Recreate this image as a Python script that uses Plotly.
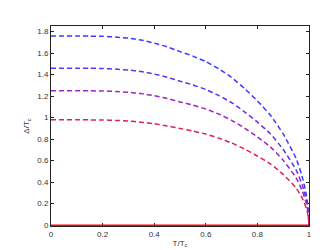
import plotly.graph_objects as go

T = [0, 0.05, 0.1, 0.15, 0.2, 0.25, 0.3, 0.35, 0.4, 0.45, 0.5, 0.55, 0.6, 0.65, 0.7,
     0.75, 0.8, 0.85, 0.9, 0.95, 0.975, 0.99, 0.997, 1.0]
gap_176 = [1.76, 1.76, 1.76, 1.758, 1.756, 1.749, 1.739, 1.721, 1.693, 1.658, 1.614, 1.572,
           1.521, 1.454, 1.373, 1.271, 1.155, 1.024, 0.848, 0.620, 0.44, 0.278, 0.153, 0]
gap_146 = [1.46, 1.46, 1.46, 1.459, 1.457, 1.451, 1.442, 1.428, 1.405, 1.375, 1.339, 1.304,
           1.261, 1.206, 1.139, 1.054, 0.958, 0.850, 0.704, 0.514, 0.365, 0.231, 0.127, 0]
gap_125 = [1.25, 1.25, 1.25, 1.249, 1.248, 1.243, 1.235, 1.223, 1.203, 1.178, 1.146, 1.116,
           1.08, 1.033, 0.975, 0.903, 0.82, 0.728, 0.603, 0.44, 0.313, 0.198, 0.109, 0]
gap_098 = [0.98, 0.98, 0.98, 0.979, 0.978, 0.974, 0.968, 0.958, 0.943, 0.923, 0.899, 0.875,
           0.847, 0.809, 0.764, 0.708, 0.643, 0.570, 0.472, 0.345, 0.245, 0.155, 0.085, 0]
normal_T = [0, 1]
normal_gap = [0, 0]

series = [
    (gap_176, "#3a3aff"),
    (gap_146, "#6430ea"),
    (gap_125, "#a022c4"),
    (gap_098, "#e0204e"),
]

fig = go.Figure()
for vals, col in series:
    fig.add_trace(go.Scatter(x=T, y=vals, mode="lines",
                             line=dict(color=col, width=1.5, dash="5px,3px", shape="spline", smoothing=0.5),
                             showlegend=False))
fig.add_trace(go.Scatter(x=normal_T, y=normal_gap, mode="lines", line=dict(color="#ff0000", width=1.5),
                         showlegend=False))

font = dict(family="Liberation Sans, Arial", size=8, color="#333")
axis_common = dict(showgrid=False, zeroline=False, showline=True, linecolor="#222", linewidth=1,
                   mirror="ticks", ticks="inside", ticklen=3, tickcolor="#222",
                   layer="below traces", tickfont=font)
fig.update_layout(
    width=332, height=250,
    margin=dict(l=43, r=31, t=18, b=28),
    paper_bgcolor="white", plot_bgcolor="white",
    xaxis=dict(range=[0, 1], dtick=0.2, tick0=0,
               title=dict(text="T/T<sub>c</sub>", font=font, standoff=2),
               **axis_common),
    yaxis=dict(range=[-0.008, 1.852], dtick=0.2, tick0=0,
               title=dict(text="Δ/T<sub>c</sub>", font=font, standoff=6),
               **axis_common),
)
fig.write_html("out.html")
